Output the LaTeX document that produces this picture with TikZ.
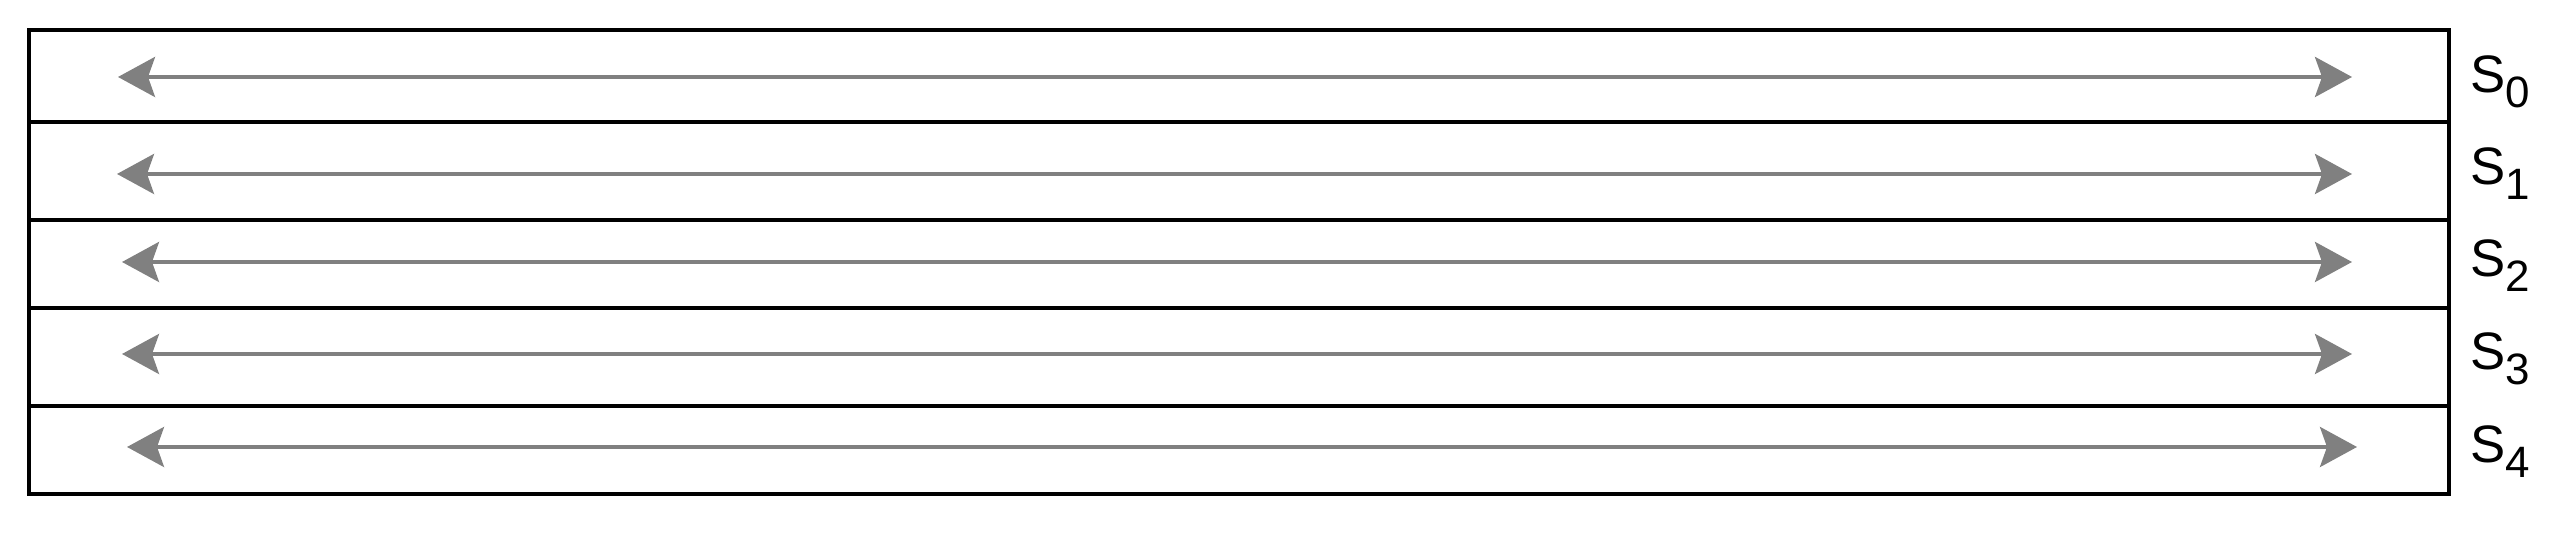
\documentclass[tikz,border=0pt]{standalone}
\usepackage{fontspec}
\setmainfont{Liberation Sans}
\usetikzlibrary{arrows.meta}
\newcommand{\sub}[1]{\raisebox{-4pt}{\fontsize{12.5}{14}\selectfont #1}}

\begin{document}
\begin{tikzpicture}[
    band/.style={draw=black,line width=1.4pt},
    span/.style={draw=gray,line width=1.1pt,{Stealth[length=3.7mm,width=4mm,inset=0.7mm]}-{Stealth[length=3.7mm,width=4mm,inset=0.7mm]}},
    lbl/.style={anchor=base west,inner sep=0pt,font=\fontsize{15}{18}\selectfont}
  ]
    \useasboundingbox (0,0) rectangle (25.58,5.35);
    % stacked bands
    \draw[band] (0.29,5.05) rectangle (24.49,4.13);
    \draw[band] (0.29,4.13) rectangle (24.49,3.15);
    \draw[band] (0.29,3.15) rectangle (24.49,2.27);
    \draw[band] (0.29,2.27) rectangle (24.49,1.29);
    \draw[band] (0.29,1.29) rectangle (24.49,0.41);
    % arrow ends
    \coordinate (l0) at (1.18,4.58);
    \coordinate (r0) at (23.52,4.58);
    \coordinate (l1) at (1.17,3.61);
    \coordinate (r1) at (23.52,3.61);
    \coordinate (l2) at (1.22,2.73);
    \coordinate (r2) at (23.52,2.73);
    \coordinate (l3) at (1.22,1.81);
    \coordinate (r3) at (23.52,1.81);
    \coordinate (l4) at (1.27,0.88);
    \coordinate (r4) at (23.57,0.88);
    \draw[span] (l0) -- (r0);
    \draw[span] (l1) -- (r1);
    \draw[span] (l2) -- (r2);
    \draw[span] (l3) -- (r3);
    \draw[span] (l4) -- (r4);
    % labels
    \node[lbl] (s0) at (24.70,4.42) {S\sub{0}};
    \node[lbl] (s1) at (24.70,3.50) {S\sub{1}};
    \node[lbl] (s2) at (24.70,2.58) {S\sub{2}};
    \node[lbl] (s3) at (24.70,1.65) {S\sub{3}};
    \node[lbl] (s4) at (24.70,0.72) {S\sub{4}};
  \end{tikzpicture}
\end{document}
